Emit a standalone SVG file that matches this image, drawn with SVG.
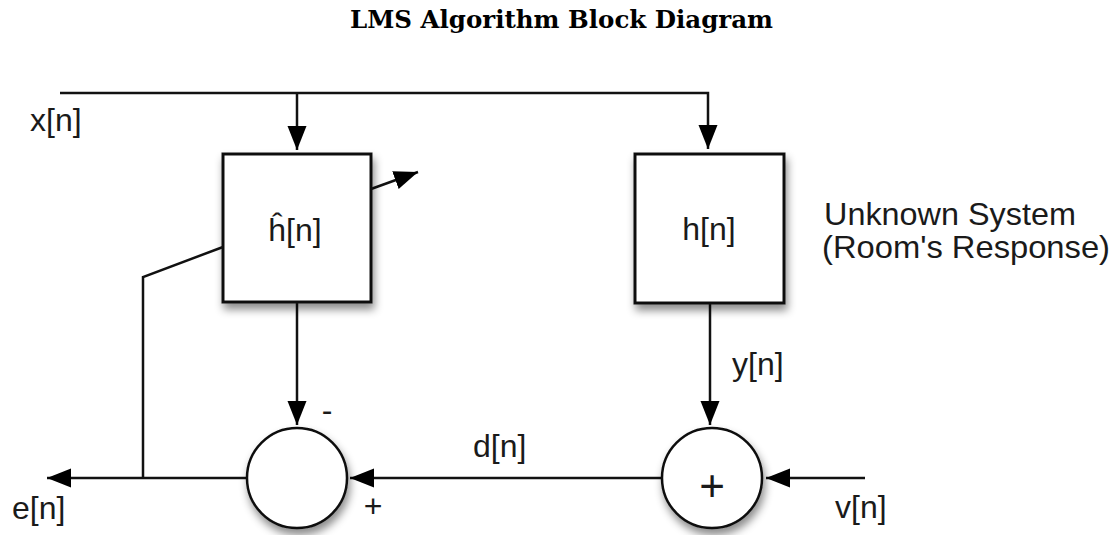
<svg xmlns="http://www.w3.org/2000/svg" width="1115" height="535" viewBox="0 0 1115 535">
  <defs>
    <marker id="arrow" markerUnits="userSpaceOnUse" markerWidth="26" markerHeight="20" refX="24" refY="9.5" orient="auto">
      <path d="M0,0 L24,9.5 L0,19 z" fill="#000"/>
    </marker>
    <filter id="shadow" x="-20%" y="-20%" width="150%" height="150%">
      <feDropShadow dx="2" dy="6" stdDeviation="4" flood-color="#000" flood-opacity="0.45"/>
    </filter>
  </defs>
  <style>
    .line { fill: none; stroke: #111; stroke-width: 2.5; }
    .box { fill: #fff; stroke: #111; stroke-width: 3; filter: url(#shadow); }
    .sum { fill: #fff; stroke: #111; stroke-width: 2.5; filter: url(#shadow); }
    .lbl { font-family: "Liberation Sans", Arial, sans-serif; font-size: 32px; fill: #1a1a1a; }
    .title { font-family: "DejaVu Serif", "Liberation Serif", serif; font-weight: bold; font-size: 24px; fill: #000; }
  </style>
  <rect width="1115" height="535" fill="#fff"/>

  <text class="title" x="350" y="28" textLength="423" lengthAdjust="spacingAndGlyphs">LMS Algorithm Block Diagram</text>

  <g id="connectors">
    <polyline class="line" points="60,93 708,93 708,149" marker-end="url(#arrow)"/>
    <line class="line" x1="297" y1="93" x2="297" y2="150" marker-end="url(#arrow)"/>
    <line class="line" x1="371" y1="189" x2="418" y2="172" marker-end="url(#arrow)"/>
    <line class="line" x1="297" y1="302" x2="297" y2="425" marker-end="url(#arrow)"/>
    <line class="line" x1="710" y1="303" x2="710" y2="425" marker-end="url(#arrow)"/>
    <line class="line" x1="662" y1="478" x2="350" y2="478" marker-end="url(#arrow)"/>
    <line class="line" x1="865" y1="478" x2="766" y2="478" marker-end="url(#arrow)"/>
    <line class="line" x1="247" y1="478" x2="47" y2="478" marker-end="url(#arrow)"/>
    <polyline class="line" points="223,247 143,277 143,478"/>
  </g>

  <g id="node-hhat">
    <rect class="box" x="223" y="154" width="148" height="148"/>
    <text class="lbl" x="295" y="241" text-anchor="middle">ĥ[n]</text>
  </g>

  <g id="node-h">
    <rect class="box" x="635" y="154" width="149" height="149"/>
    <text class="lbl" x="709" y="240" text-anchor="middle">h[n]</text>
  </g>

  <g id="node-sum-error">
    <circle class="sum" cx="297" cy="478" r="50"/>
  </g>

  <g id="node-sum-noise">
    <circle class="sum" cx="712" cy="478" r="50"/>
    <text class="lbl" x="712" y="501" text-anchor="middle" style="font-size:44px">+</text>
  </g>

  <g id="labels">
    <text class="lbl" x="30" y="131">x[n]</text>
    <text class="lbl" x="824" y="225" textLength="252" lengthAdjust="spacingAndGlyphs">Unknown System</text>
    <text class="lbl" x="822" y="258" textLength="288" lengthAdjust="spacingAndGlyphs">(Room's Response)</text>
    <text class="lbl" x="732" y="375">y[n]</text>
    <text class="lbl" x="473" y="457">d[n]</text>
    <text class="lbl" x="12" y="519">e[n]</text>
    <text class="lbl" x="835" y="518">v[n]</text>
    <text class="lbl" x="327" y="421" text-anchor="middle">-</text>
    <text class="lbl" x="373" y="517" text-anchor="middle">+</text>
  </g>
</svg>
